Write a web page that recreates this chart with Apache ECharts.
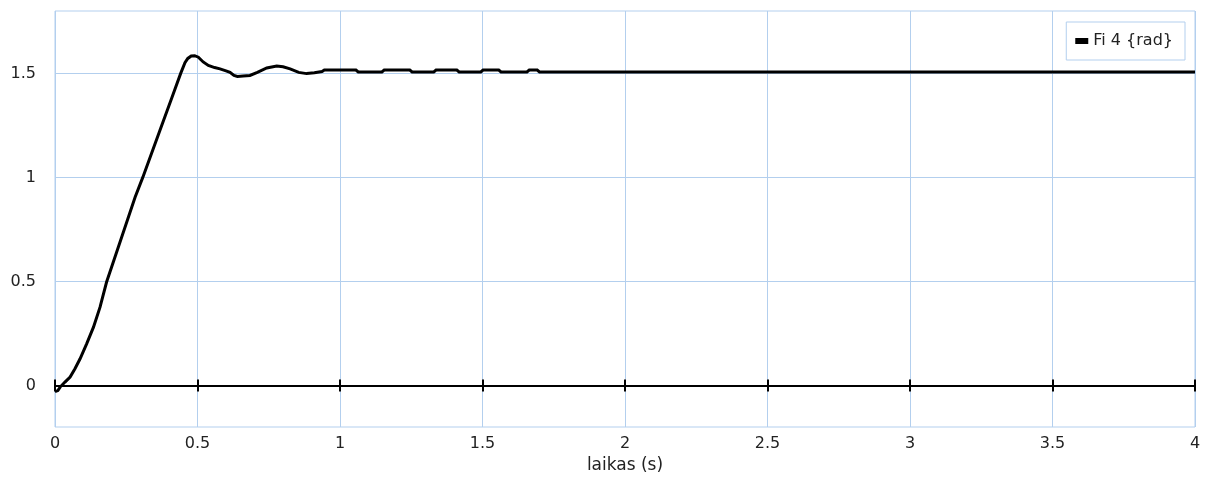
<!DOCTYPE html>
<html>
<head>
<meta charset="utf-8">
<title>Fi 4 {rad}</title>
<script src="https://cdn.jsdelivr.net/npm/echarts@6/dist/echarts.min.js"></script>
<style>
  html, body { margin: 0; padding: 0; background: #ffffff; }
  #chart { width: 1205px; height: 482px; }
</style>
</head>
<body>
<div id="chart"></div>
<script>
// Time samples (s) and the angle Fi 4 (rad) at those instants
const timeSec = [
  0, 0.01, 0.018, 0.035, 0.053, 0.07, 0.088, 0.111, 0.135, 0.158,
  0.181, 0.23, 0.281, 0.308, 0.368, 0.41, 0.441, 0.456, 0.466, 0.478,
  0.49, 0.503, 0.52, 0.538, 0.56, 0.579, 0.6, 0.614, 0.628, 0.64,
  0.66, 0.684, 0.71, 0.743, 0.778, 0.8, 0.825, 0.855, 0.883, 0.91,
  0.937, 0.945, 1.056, 1.064, 1.147, 1.155, 1.245, 1.253, 1.329, 1.337,
  1.41, 1.418, 1.494, 1.502, 1.557, 1.565, 1.656, 1.664, 1.692, 1.7,
  1.796, 1.803, 1.81, 2.5, 3, 3.5, 4
];
const fi4Rad = [
  -0.03, -0.025, -0.008, 0.016, 0.04, 0.08, 0.128, 0.2, 0.28, 0.376,
  0.497, 0.697, 0.905, 1.0, 1.226, 1.383, 1.5, 1.552, 1.572, 1.584,
  1.585, 1.578, 1.555, 1.538, 1.528, 1.522, 1.512, 1.505, 1.49, 1.485,
  1.488, 1.49, 1.505, 1.526, 1.535, 1.532, 1.522, 1.505, 1.499, 1.503,
  1.509, 1.516, 1.516, 1.507, 1.507, 1.516, 1.516, 1.507, 1.507, 1.516,
  1.516, 1.507, 1.507, 1.516, 1.516, 1.507, 1.507, 1.516, 1.516, 1.507,
  1.507, 1.515, 1.507, 1.507, 1.507, 1.507, 1.507
];
const seriesName = 'Fi 4 {rad}';
const xAxisName = 'laikas (s)';
const yTickValues = [0, 0.5, 1, 1.5];

const gridBlue = '#b3cfee';
const font = 'DejaVu Sans';

const chart = echarts.init(document.getElementById('chart'), null, { renderer: 'canvas' });

const points = timeSec.map((t, i) => [t, fi4Rad[i]]);

// Zero line carried by two extra x axes so that its ticks cross it on both sides
const zeroAxis = (position) => ({
  type: 'value', min: 0, max: 4, interval: 0.5, position: position,
  axisLine: { show: true, onZero: true, onZeroAxisIndex: 0, lineStyle: { color: '#000', width: 2 } },
  axisTick: { show: true, inside: true, length: 6, lineStyle: { color: '#000', width: 2 } },
  axisLabel: { show: false },
  splitLine: { show: false }
});

chart.setOption({
  backgroundColor: '#ffffff',
  animation: false,
  grid: {
    left: 55, right: 10, top: 11, bottom: 55,
    show: true, borderColor: gridBlue, borderWidth: 1, backgroundColor: 'transparent'
  },
  legend: {
    data: [seriesName],
    right: 20, top: 22,
    icon: 'rect', itemWidth: 13, itemHeight: 6,
    padding: [11, 12, 11, 9],
    borderColor: gridBlue, borderWidth: 1,
    textStyle: { fontFamily: font, fontSize: 16, color: '#222' }
  },
  xAxis: [
    {
      type: 'value', min: 0, max: 4, interval: 0.5, position: 'bottom',
      name: xAxisName, nameLocation: 'middle', nameGap: 30,
      nameTextStyle: { fontFamily: font, fontSize: 17, color: '#222' },
      axisLine: { show: false, onZero: false },
      axisTick: { show: false },
      axisLabel: { fontFamily: font, fontSize: 16, color: '#222', margin: 9 },
      splitLine: { show: true, lineStyle: { color: gridBlue, width: 1 } }
    },
    zeroAxis('bottom'),
    zeroAxis('top')
  ],
  yAxis: {
    type: 'value', min: -0.2, max: 1.8,
    axisLine: { show: false },
    axisTick: { show: false, customValues: yTickValues },
    axisLabel: { customValues: yTickValues, fontFamily: font, fontSize: 16, color: '#222', margin: 19 },
    splitLine: { show: true, lineStyle: { color: gridBlue, width: 1 } }
  },
  series: [{
    name: seriesName,
    type: 'line',
    xAxisIndex: 0,
    data: points,
    showSymbol: false,
    smooth: false,
    z: 5,
    itemStyle: { color: '#000' },
    lineStyle: { color: '#000', width: 3, join: 'miter' }
  }]
});
</script>
</body>
</html>
